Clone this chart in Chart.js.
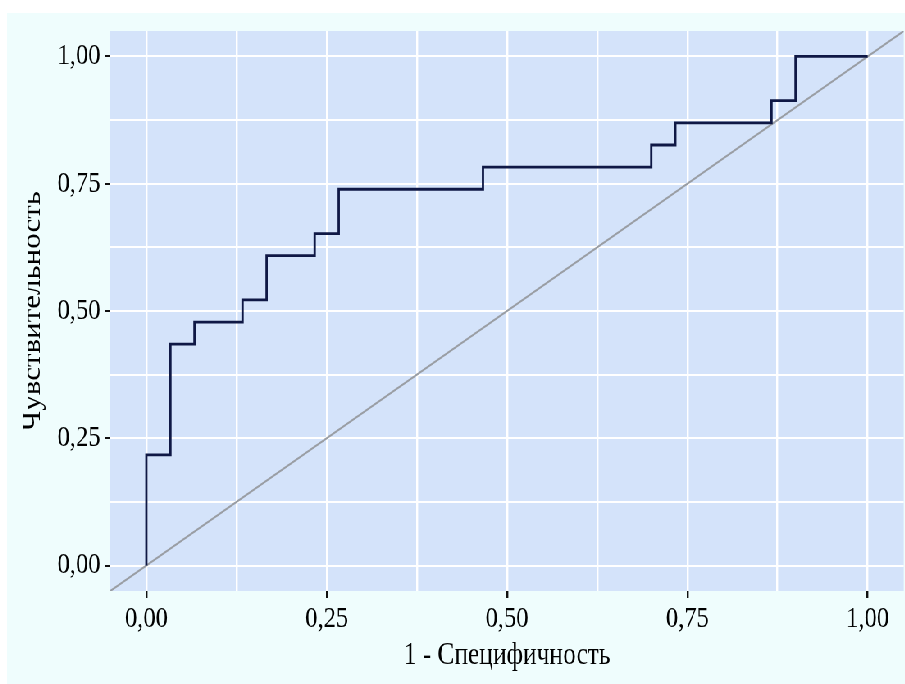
<!DOCTYPE html>
<html>
<head>
<meta charset="utf-8">
<script src="https://cdn.jsdelivr.net/npm/chart.js@4/dist/chart.umd.min.js"></script>
<style>
    html, body { margin: 0; padding: 0; background: #ffffff; overflow: hidden; }
    /* исходный рисунок сжат по горизонтали, поэтому рисуем шире и сжимаем */
    #wrap {
        position: absolute; left: 7px; top: 13px;
        width: 1095px; height: 671px;
        background: #effdfd;
        transform: scaleX(0.82); transform-origin: 0 0;
    }
</style>
</head>
<body>
<div id="wrap"><canvas id="chart-roc"></canvas></div>
<script>
// ROC: точки порогов (1 - специфичность, чувствительность)
const fpr = [0, 0, 1/30, 2/30, 4/30, 5/30, 7/30, 8/30, 14/30, 21/30, 22/30, 26/30, 27/30, 1];
const tpr = [0, 5/23, 10/23, 11/23, 12/23, 14/23, 15/23, 17/23, 18/23, 19/23, 20/23, 21/23, 1, 1];

// линия случайного угадывания
const diagX = [-0.05, 1.05];
const diagY = [-0.05, 1.05];

// сетка и подписи осей
const gridValues  = [0, 0.125, 0.25, 0.375, 0.5, 0.625, 0.75, 0.875, 1];
const majorValues = [0, 0.25, 0.5, 0.75, 1];

const isMajor = v => majorValues.some(m => Math.abs(m - v) < 1e-6);
const fmt = v => v.toFixed(2).replace('.', ',');

// ступенчатая линия из точек порогов
const rocPoints = [{ x: fpr[0], y: tpr[0] }];
for (let i = 1; i < fpr.length; i++) {
    rocPoints.push({ x: fpr[i], y: tpr[i - 1] });
    rocPoints.push({ x: fpr[i], y: tpr[i] });
}

const panelBg = {
    id: 'panelBg',
    beforeDraw(chart) {
        const a = chart.chartArea, c = chart.ctx;
        c.save();
        c.fillStyle = '#d4e3fa';
        c.fillRect(a.left, a.top, a.right - a.left, a.bottom - a.top);
        c.restore();
    }
};

const serif = '"Liberation Serif", "DejaVu Serif", serif';

function axis(o) {
    return {
        type: 'linear',
        min: -0.05,
        max: 1.05,
        afterBuildTicks: s => { s.ticks = gridValues.map(v => ({ value: v })); },
        afterFit: s => {
            o.fit(s);
            // подписи не должны сдвигать область графика
            s.paddingTop = 0; s.paddingBottom = 0;
            s.paddingLeft = 0; s.paddingRight = 0;
        },
        border: { display: false },
        grid: {
            color: '#ffffff',
            lineWidth: o.lw,
            drawTicks: true,
            tickLength: o.tickLen,
            tickWidth: o.lw,
            tickColor: ctx => (ctx.tick && isMajor(ctx.tick.value)) ? '#111111' : 'rgba(0,0,0,0)'
        },
        ticks: {
            color: '#000000',
            font: { family: serif, size: 30 },
            padding: o.tickPad,
            autoSkip: false,
            maxRotation: 0,
            callback: v => isMajor(v) ? fmt(v) : ''
        },
        title: {
            display: true,
            text: o.title,
            color: '#000000',
            font: { family: serif, size: 31 },
            padding: o.titlePad
        }
    };
}

const ctx = document.getElementById('chart-roc').getContext('2d');
new Chart(ctx, {
    type: 'scatter',
    data: {
        datasets: [
            {
                label: 'ROC',
                data: rocPoints,
                showLine: true,
                borderColor: '#0f1845',
                borderWidth: 2.8,
                pointRadius: 0,
                fill: false,
                order: 1
            },
            {
                label: 'Диагональ',
                data: diagX.map((x, i) => ({ x: x, y: diagY[i] })),
                showLine: true,
                borderColor: '#9a9ea4',
                borderWidth: 2,
                pointRadius: 0,
                fill: false,
                order: 2
            }
        ]
    },
    options: {
        responsive: true,
        maintainAspectRatio: false,
        animation: false,
        layout: { padding: { top: 18, right: 0, left: 0, bottom: 0 } },
        plugins: { legend: { display: false }, tooltip: { enabled: false } },
        scales: {
            x: axis({
                title: '1 - Специфичность',
                fit: s => { s.height = 93; },
                lw: 2.4, tickLen: 7, tickPad: 3,
                titlePad: { top: 0, bottom: 10 }
            }),
            y: axis({
                title: 'Чувствительность',
                fit: s => { s.width = 126; },
                lw: 2, tickLen: 7, tickPad: 5,
                titlePad: { top: 13, bottom: 0 }
            })
        }
    },
    plugins: [panelBg]
});
</script>
</body>
</html>
